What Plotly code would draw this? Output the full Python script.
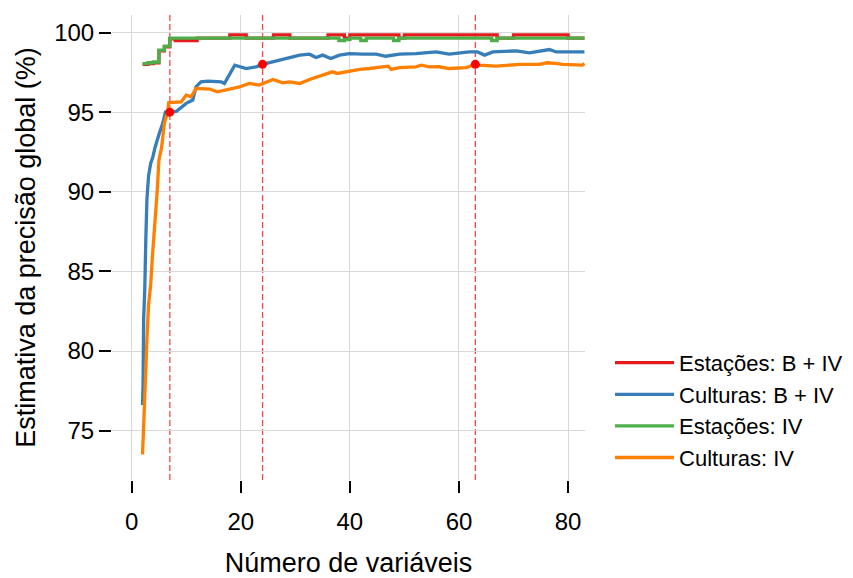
import plotly.graph_objects as go

# ---------------- data ----------------
series_names = ["Estações: B + IV", "Culturas: B + IV", "Estações: IV", "Culturas: IV"]
series_colors = ["#E41A1C", "#377EB8", "#4DAF4A", "#FF7F00"]

# Estações (integer number of variables 2..83)
est_x = [2, 3, 4, 5, 6, 7, 8, 9, 10, 11, 12, 13, 14, 15, 16, 17, 18, 19, 20, 21,
         22, 23, 24, 25, 26, 27, 28, 29, 30, 31, 32, 33, 34, 35, 36, 37, 38, 39, 40, 41,
         42, 43, 44, 45, 46, 47, 48, 49, 50, 51, 52, 53, 54, 55, 56, 57, 58, 59, 60, 61,
         62, 63, 64, 65, 66, 67, 68, 69, 70, 71, 72, 73, 74, 75, 76, 77, 78, 79, 80, 81,
         82, 83]
est_b_iv = [98.0, 98.05, 98.1, 98.85, 99.1, 99.6, 99.5, 99.5, 99.5, 99.5,
            99.65, 99.65, 99.65, 99.65, 99.65, 99.65, 99.85, 99.85, 99.85, 99.65,
            99.65, 99.65, 99.65, 99.65, 99.85, 99.85, 99.85, 99.65, 99.65, 99.65,
            99.65, 99.65, 99.65, 99.65, 99.85, 99.85, 99.85, 99.65, 99.85, 99.85,
            99.85, 99.85, 99.85, 99.85, 99.85, 99.85, 99.85, 99.65, 99.85, 99.85,
            99.85, 99.85, 99.85, 99.85, 99.85, 99.85, 99.85, 99.85, 99.85, 99.85,
            99.85, 99.85, 99.85, 99.85, 99.85, 99.65, 99.65, 99.65, 99.85, 99.85,
            99.85, 99.85, 99.85, 99.85, 99.85, 99.85, 99.85, 99.85, 99.65, 99.65,
            99.65, 99.65]
est_iv = [98.05, 98.1, 98.15, 98.9, 99.15, 99.65, 99.65, 99.65, 99.65, 99.65,
          99.65, 99.65, 99.65, 99.65, 99.65, 99.65, 99.65, 99.65, 99.65, 99.65,
          99.65, 99.65, 99.65, 99.65, 99.65, 99.65, 99.65, 99.65, 99.65, 99.65,
          99.65, 99.65, 99.65, 99.65, 99.65, 99.65, 99.5, 99.55, 99.65, 99.65,
          99.5, 99.65, 99.65, 99.65, 99.65, 99.65, 99.5, 99.65, 99.65, 99.65,
          99.65, 99.65, 99.65, 99.65, 99.65, 99.65, 99.65, 99.65, 99.65, 99.65,
          99.65, 99.65, 99.65, 99.65, 99.5, 99.65, 99.65, 99.65, 99.65, 99.65,
          99.65, 99.65, 99.65, 99.65, 99.65, 99.65, 99.65, 99.65, 99.65, 99.65,
          99.65, 99.65]

# Culturas: B + IV
cult_b_iv_x = [2.0, 2.1, 2.2, 2.4, 2.6, 2.8, 3.1, 3.5, 3.9, 4.3,
               5.1, 5.7, 6.2, 7, 8.2, 10, 11.2, 11.8, 12.7, 14,
               16.4, 17, 18.9, 21, 22.8, 24, 25.9, 28, 30.8, 32.6,
               33.8, 35, 36.5, 38.1, 39.9, 42.4, 44.8, 46.6, 49.1, 52.1,
               55.8, 58.2, 61.9, 63.4, 64.7, 66.2, 70.5, 72.9, 76.6, 77.8, 83]
cult_b_iv = [76.6, 78.1, 82.0, 83.8, 87.0, 89.5, 91.0, 91.8, 92.2, 92.8,
             93.7, 94.3, 95.0, 95.0, 95.05, 95.55, 95.76, 96.59, 96.9, 96.95,
             96.9, 96.8, 97.95, 97.74, 97.84, 98.0, 98.16, 98.37, 98.58, 98.64,
             98.43, 98.58, 98.37, 98.58, 98.68, 98.64, 98.64, 98.51, 98.64, 98.68,
             98.78, 98.64, 98.78, 98.78, 98.58, 98.78, 98.85, 98.72, 98.93, 98.78, 98.78]

# Culturas: IV
cult_iv_x = [2.0, 2.1, 2.3, 2.6, 2.8, 3.1, 3.5, 3.8, 4.2, 4.5,
             4.7, 5.0, 5.5, 6.0, 6.6, 6.8, 9.1, 10.0, 10.9, 11.8,
             14.3, 15.7, 19.8, 21.6, 23.4, 25.9, 27.7, 28.9, 30.8, 32.6,
             35.0, 36.8, 37.7, 39.6, 41.8, 43.6, 45.4, 47.0, 47.6, 49.1,
             52.1, 53.1, 54.6, 56.4, 58.2, 61.3, 63.0, 63.7, 66.8, 68.6,
             71.1, 74.7, 76.2, 78.1, 79.0, 82.6, 83.0]
cult_iv = [73.5, 74.6, 76.3, 79.0, 80.7, 82.9, 84.2, 85.9, 87.6, 88.9,
           90.1, 92.0, 92.8, 94.3, 95.0, 95.6, 95.65, 96.07, 95.96, 96.49,
           96.45, 96.28, 96.59, 96.8, 96.7, 97.05, 96.84, 96.9, 96.8, 97.05,
           97.32, 97.53, 97.43, 97.57, 97.68, 97.74, 97.84, 97.89, 97.68, 97.8,
           97.84, 97.95, 97.84, 97.85, 97.74, 97.8, 98.0, 97.95, 97.89, 97.95,
           98.0, 98.0, 98.1, 98.05, 98.0, 97.95, 98.05]

# selected points (vertical markers)
sel_x = [7, 24, 63]
sel_y = [95, 98, 98]

x_ticks = [0, 20, 40, 60, 80]
y_ticks = [75, 80, 85, 90, 95, 100]

FONT = "Liberation Sans, Arial, sans-serif"

fig = go.Figure()

xs = [est_x, cult_b_iv_x, est_x, cult_iv_x]
ys = [est_b_iv, cult_b_iv, est_iv, cult_iv]
shapes_line = ["hv", "linear", "hv", "linear"]
for name, col, x, y, sh in zip(series_names, series_colors, xs, ys, shapes_line):
    fig.add_trace(go.Scatter(x=x, y=y, mode="lines", name=name,
                             line=dict(color=col, width=3.3, shape=sh)))

fig.add_trace(go.Scatter(x=sel_x, y=sel_y, mode="markers", showlegend=False,
                         marker=dict(color="#FF0000", size=9)))

for xv in sel_x:
    fig.add_shape(type="line", x0=xv, x1=xv, xref="x", y0=0, y1=1, yref="paper",
                  line=dict(color="rgba(240,40,40,0.85)", width=1.3, dash="6px,3px"),
                  layer="between")

fig.update_layout(
    width=845, height=570,
    margin=dict(l=104, r=268, t=7, b=98, autoexpand=False),
    paper_bgcolor="white", plot_bgcolor="white",
    font=dict(family=FONT, color="black", size=24),
    legend=dict(x=1.0529, y=0.297, xanchor="left", yanchor="top",
                font=dict(size=22), itemwidth=59, tracegroupgap=0,
                bgcolor="rgba(0,0,0,0)"),
    showlegend=True,
)
fig.update_xaxes(range=[-3.6, 83.1], tickvals=x_ticks, ticks="outside", ticklen=12,
                 tickwidth=1.5, tickcolor="black", showline=False, zeroline=False,
                 showgrid=True, gridcolor="#d9d9d9", gridwidth=1, automargin=False,
                 tickfont=dict(size=24), ticklabelstandoff=8,
                 title=dict(text="Número de variáveis", font=dict(size=27), standoff=24))
fig.update_yaxes(range=[71.9, 101.1], tickvals=y_ticks, ticks="outside", ticklen=12,
                 tickwidth=1.5, tickcolor="black", showline=False, zeroline=False,
                 showgrid=True, gridcolor="#d9d9d9", gridwidth=1, automargin=False,
                 tickfont=dict(size=24),
                 title=dict(text="Estimativa da precisão global (%)", font=dict(size=27), standoff=10))

fig.write_html("out.html")
